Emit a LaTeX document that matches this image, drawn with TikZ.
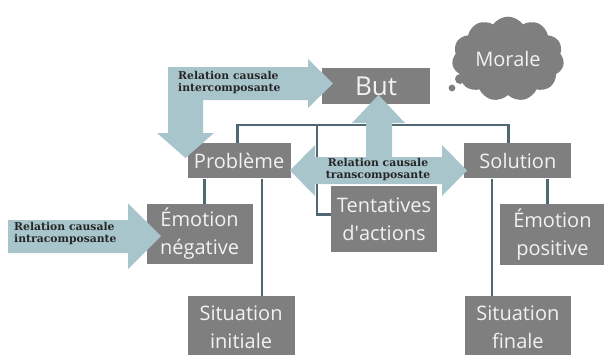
\documentclass[tikz,border=0pt]{standalone}
\usepackage{fontspec}
\setmainfont{Open Sans}
\newfontfamily\relfont{DejaVu Serif}
\usetikzlibrary{shapes,arrows,positioning}
\definecolor{boxgray}{RGB}{127,127,127}
\definecolor{boxtext}{RGB}{242,242,242}
\definecolor{linkgray}{RGB}{80,104,113}
\definecolor{relblue}{RGB}{167,197,203}

\begin{document}
\begin{tikzpicture}[x=1pt, y=-1pt,
    block_part/.style ={rectangle, fill=boxgray, text=boxtext, inner sep=0pt,
      font=\fontsize{20}{28}\selectfont, align=center, minimum width=106pt, minimum height=35pt},
    block_tall/.style ={block_part, minimum height=61pt},
    block_morale/.style ={cloud, cloud puffs=11, cloud puff arc=110, aspect=1.4, fill=boxgray,
      text=boxtext, font=\fontsize{20}{24}\selectfont, minimum width=112pt, minimum height=84pt},
    link/.style ={draw=linkgray, line width=2.4pt},
    relation/.style ={fill=relblue},
    rel_label/.style ={font=\relfont\bfseries\fontsize{10.8}{12}\selectfont, text=black!85,
      inner sep=0pt, align=left}]
    \useasboundingbox (0,0) rectangle (604,354);
    % row 1
    \node [block_part, font=\fontsize{26}{28}\selectfont, minimum width=108pt, minimum height=36pt]
      (but) at (376,86) {But};
    \node [block_morale] (morale) at (508,59) {Morale};
    \fill [boxgray] (460,79) circle (5pt);
    \fill [boxgray] (452,88) circle (3.4pt);
    % row 2
    \node [block_part, minimum width=103pt] (probleme) [below left=39pt and 31pt of but] {Problème};
    \node [block_part, minimum width=107pt] (solution) [below right=39pt and 34pt of but] {Solution};
    % row 3
    \node [block_tall, minimum height=66pt] (tentatives) [below=82pt of but, xshift=8pt] {Tentatives\\ d\textquotesingle actions};
    \node [block_tall, minimum height=60pt] (emoneg) [below=25pt of probleme, xshift=-39.5pt] {Émotion\\ négative};
    \node [block_tall, minimum width=104pt] (emopos) [below=25pt of solution, xshift=34.5pt] {Émotion\\ positive};
    % row 4
    \node [block_tall, minimum width=107pt, minimum height=63pt] (sitinit) [below=117pt of probleme, xshift=2pt] {Situation\\ initiale};
    \node [block_tall, minimum height=63pt] (sitfin) [below=117pt of solution] {Situation\\ finale};
    % connecting nodes with lines
    \coordinate (junction) at ([yshift=-21pt]but.south);
    \coordinate (tcorner) at ([shift={(-14pt,5pt)}]tentatives.west);
    \coordinate (negtop) at ([xshift=5pt]emoneg.north);
    \coordinate (initop) at ([xshift=21pt]sitinit.north);
    \coordinate (fintop) at ([xshift=-26pt]sitfin.north);
    \coordinate (postop) at ([xshift=-5pt]emopos.north);
    \coordinate (soltop) at ([xshift=-9.5pt]solution.north);
    \begin{scope}[every path/.style=link]
      \path (but.south) -- (junction);
      \path ([xshift=-1.5pt]probleme.north) |- (junction) -| (soltop);
      \path (junction -| tcorner) -- (tcorner) -- (tcorner -| tentatives.west);
      \path (negtop) -- (negtop |- probleme.south);
      \path (initop) -- (initop |- probleme.south);
      \path (fintop) -- (fintop |- solution.south);
      \path (postop) -- (postop |- solution.south);
    \end{scope}
    % causal relations
    \path [relation] (168,67) -- (308,67) -- (308,59) -- (333,83.5) -- (308,108) -- (308,100)
      -- (203,100) -- (203,133) -- (214,133) -- (185.5,158) -- (157,133) -- (168,133) -- cycle;
    \path [relation] (290,170.5) -- (315,145) -- (315,157) -- (366,157) -- (366,123) -- (352,123)
      -- (378.5,95) -- (405,123) -- (392,123) -- (392,157) -- (442,157) -- (442,145) -- (467,170.5)
      -- (442,196) -- (442,184) -- (315,184) -- (315,196) -- cycle;
    \path [relation] (8,220) -- (128,220) -- (128,203.5) -- (161,236) -- (128,269) -- (128,253)
      -- (8,253) -- cycle;
    \node [rel_label, anchor=west] (inter) at (178,83) {Relation causale\\intercomposante};
    \node [rel_label, align=center] (trans) at (378,170) {Relation causale\\transcomposante};
    \node [rel_label, anchor=west] (intra) at (14,234) {Relation causale\\intracomposante};
\end{tikzpicture}
\end{document}
